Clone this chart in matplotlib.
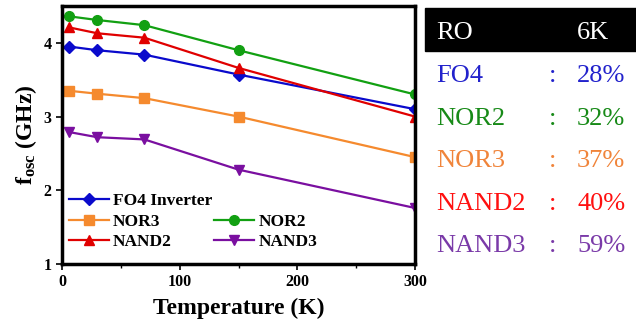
import matplotlib
matplotlib.use("Agg")
import matplotlib.pyplot as plt
from matplotlib.lines import Line2D
from matplotlib.patches import Rectangle
from matplotlib.ticker import MultipleLocator

plt.rcParams["font.family"] = ["Liberation Serif", "DejaVu Serif"]
plt.rcParams["mathtext.fontset"] = "custom"
plt.rcParams["mathtext.rm"] = "Liberation Serif"
plt.rcParams["mathtext.bf"] = "Liberation Serif:bold"

# ring-oscillator frequency vs temperature
temps = [6, 30, 70, 150, 300]
fo4 = [3.95, 3.90, 3.84, 3.57, 3.10]
nor2 = [4.36, 4.31, 4.24, 3.90, 3.30]
nor3 = [3.35, 3.31, 3.25, 3.00, 2.45]
nand2 = [4.21, 4.13, 4.07, 3.66, 3.00]
nand3 = [2.79, 2.72, 2.69, 2.28, 1.76]

# speed-up at 6 K relative to 300 K
table_names = ["FO4", "NOR2", "NOR3", "NAND2", "NAND3"]
table_pcts = ["28%", "32%", "37%", "40%", "59%"]
table_colors = ["#2222CC", "#178A17", "#F0843A", "#FF1010", "#7A3AA8"]

W, H = 636, 328
fig = plt.figure(figsize=(W / 100, H / 100), dpi=100)
ax = fig.add_axes([62 / W, 1 - 264 / H, (415 - 62) / W, (264 - 6) / H])

styles = dict(lw=1.6, ms=7)
l_fo4, = ax.plot(temps, fo4, color="#0A0ACC", marker="D", ms=6, lw=1.6, label="FO4 Inverter")
l_nor3, = ax.plot(temps, nor3, color="#F58A2E", marker="s", label="NOR3", **styles)
l_nor2, = ax.plot(temps, nor2, color="#12A012", marker="o", label="NOR2", **styles)
l_nand2, = ax.plot(temps, nand2, color="#E00000", marker="^", label="NAND2", **styles)
l_nand3, = ax.plot(temps, nand3, color="#7A0FA0", marker="v", label="NAND3", **styles)

ax.set_xlim(0, 300)
ax.set_ylim(1, 4.5)
ax.xaxis.set_major_locator(MultipleLocator(100))
ax.xaxis.set_minor_locator(MultipleLocator(50))
ax.yaxis.set_major_locator(MultipleLocator(1))
for s in ax.spines.values():
    s.set_linewidth(2.5)
ax.tick_params(axis="both", which="major", length=4, width=1.2, labelsize=11.5)
ax.tick_params(axis="x", which="minor", length=3, width=1)
for lab in ax.get_xticklabels() + ax.get_yticklabels():
    lab.set_fontweight("bold")

ax.set_xlabel("Temperature (K)", fontsize=17, fontweight="bold", labelpad=5)
ax.set_ylabel(r"$\mathbf{f_{osc}}$ (GHz)", fontsize=17, fontweight="bold", labelpad=3)

blank = Line2D([], [], alpha=0)
ax.legend([l_fo4, l_nor3, l_nand2, blank, l_nor2, l_nand3],
          ["FO4 Inverter", "NOR3", "NAND2", "", "NOR2", "NAND3"],
          ncol=2, frameon=False, loc="lower left", bbox_to_anchor=(-0.02, 0.0),
          prop={"weight": "bold", "size": 12.5}, handlelength=2.3,
          handletextpad=0.25, columnspacing=0.1, labelspacing=0.24, borderpad=0.3)

# side table
fig.patches.append(Rectangle((425 / W, 1 - 51 / H), (W - 425) / W, 43 / H,
                             transform=fig.transFigure, color="black", zorder=0))
fig.text(436 / W, 1 - 39 / H, "RO", color="white", fontsize=19, va="baseline")
fig.text(577 / W, 1 - 39 / H, "6K", color="white", fontsize=19, va="baseline")
baselines = [82, 125, 167, 210, 252]
for name, pct, c, yb in zip(table_names, table_pcts, table_colors, baselines):
    fig.text(436 / W, 1 - yb / H, name, color=c, fontsize=19, va="baseline")
    fig.text(553 / W, 1 - yb / H, ":", color=c, fontsize=19, va="baseline", ha="center")
    fig.text(577 / W, 1 - yb / H, pct, color=c, fontsize=19, va="baseline")

fig.savefig("out.png", dpi=100)
